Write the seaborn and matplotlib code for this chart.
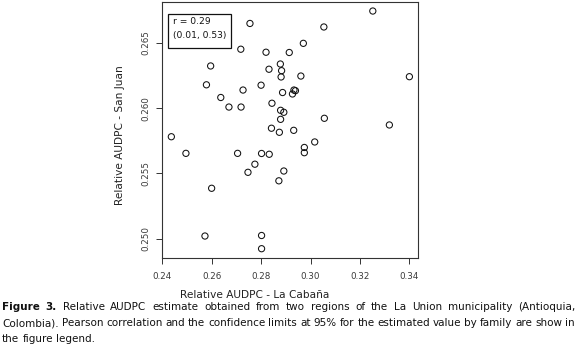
import matplotlib
matplotlib.use("Agg")
import matplotlib.pyplot as plt
from matplotlib.patches import Rectangle
import seaborn as sns
import pandas as pd

# Data
la_cabana = [0.2755, 0.2718, 0.2820, 0.2596, 0.2832, 0.2878, 0.2883, 0.2881, 0.2961,
             0.2579, 0.2727, 0.2800, 0.2637, 0.2670, 0.2719, 0.2844, 0.2437, 0.2842,
             0.3252, 0.3054, 0.2971, 0.2914, 0.3400, 0.2887, 0.2927, 0.2933, 0.2939,
             0.2879, 0.2892, 0.2879, 0.3056, 0.3319, 0.2874, 0.2932, 0.3017, 0.2975,
             0.2975, 0.2802, 0.2833, 0.2892, 0.2872, 0.2775, 0.2747, 0.2496, 0.2705,
             0.2600, 0.2573, 0.2802, 0.2802]
san_juan = [0.26647, 0.26450, 0.26427, 0.26322, 0.26297, 0.26337, 0.26286, 0.26238, 0.26245,
            0.26178, 0.26138, 0.26175, 0.26081, 0.26008, 0.26008, 0.26037, 0.25781, 0.25846,
            0.26742, 0.26620, 0.26495, 0.26425, 0.26240, 0.26119, 0.26108, 0.26138, 0.26133,
            0.25983, 0.25968, 0.25914, 0.25922, 0.25871, 0.25815, 0.25830, 0.25741, 0.25699,
            0.25659, 0.25653, 0.25647, 0.25519, 0.25444, 0.25571, 0.25509, 0.25654, 0.25654,
            0.25387, 0.25022, 0.25026, 0.24925]
x_ticks = [0.24, 0.26, 0.28, 0.30, 0.32, 0.34]
x_ticklabels = ["0.24", "0.26", "0.28", "0.30", "0.32", "0.34"]
y_ticks = [0.250, 0.255, 0.260, 0.265]
y_ticklabels = ["0.250", "0.255", "0.260", "0.265"]
x_label = "Relative AUDPC - La Cabaña"
y_label = "Relative AUDPC - San Juan"
annot_lines = ["r = 0.29", "(0.01, 0.53)"]
caption_lines = [
    "Figure 3. Relative AUDPC estimate obtained from two regions of the La Union municipality (Antioquia,",
    "Colombia). Pearson correlation and the confidence limits at 95% for the estimated value by family are show in",
    "the figure legend.",
]

sns.set_style("white")
plt.rcParams["font.family"] = ["DejaVu Sans"]

W, H = 577, 352
fig = plt.figure(figsize=(W / 100, H / 100), dpi=100)

def fx(px):
    return px / W

def fy(py):
    return 1 - py / H

ax = fig.add_axes([fx(161.7), fy(258), fx(417.7) - fx(161.7), fy(2) - fy(258)])
df = pd.DataFrame({"x": la_cabana, "y": san_juan})
sns.scatterplot(data=df, x="x", y="y", ax=ax, marker="o", s=20,
                facecolor="none", edgecolor="#111111", linewidth=0.75, legend=False)

ax.set_xlim(0.2398, 0.34336)
ax.set_ylim(0.24854, 0.26811)
ax.set_xticks(x_ticks)
ax.set_xticklabels(x_ticklabels)
ax.set_yticks(y_ticks)
ax.set_yticklabels(y_ticklabels, rotation=90, va="center")
ax.tick_params(axis="both", direction="out", length=4.3, width=0.7, color="#333333",
               labelsize=6.3, labelcolor="#3a3a3a", bottom=True, left=True)
ax.tick_params(axis="x", pad=6)
ax.tick_params(axis="y", pad=4)
ax.set_xlabel("")
ax.set_ylabel("")
for sp in ax.spines.values():
    sp.set_color("#333333")
    sp.set_linewidth(0.8)
    sp.set_visible(True)

# annotation box
fig.patches.append(Rectangle((fx(168.3), fy(48.3)), fx(231) - fx(168.3), fy(14) - fy(48.3),
                             transform=fig.transFigure, facecolor="white",
                             edgecolor="#111111", linewidth=0.9, zorder=5))
fig.text(fx(173.3), fy(21.7), annot_lines[0], fontsize=6.6, color="#111111",
         va="center", ha="left", zorder=6)
fig.text(fx(173.3), fy(35.7), annot_lines[1], fontsize=6.6, color="#111111",
         va="center", ha="left", zorder=6)

fig.text(fx(255), fy(295), x_label, fontsize=7.6, color="#222222", ha="center", va="center")
fig.text(fx(120), fy(135), y_label, fontsize=7.6, color="#222222", ha="center", va="center",
         rotation=90)

# justified caption
renderer = fig.canvas.get_renderer()
x0, x1 = 2.0, 575.0
cap_y = [306.7, 323.5, 339.3]
for li, line in enumerate(caption_lines):
    words = line.split(" ")
    items = []
    for wi, w in enumerate(words):
        bold = (li == 0 and wi < 2)
        t = fig.text(0, fy(cap_y[li]), w, fontsize=7.45, color="#111111", ha="left", va="center",
                     fontweight="bold" if bold else "normal")
        items.append(t)
    widths = [t.get_window_extent(renderer).width for t in items]
    total = sum(widths)
    if li < len(caption_lines) - 1 and len(words) > 1:
        gap = (x1 - x0 - total) / (len(words) - 1)
    else:
        gap = 3.2
    pos = x0
    for t, w in zip(items, widths):
        t.set_x(fx(pos))
        pos += w + gap

fig.savefig("out.png", dpi=100)
